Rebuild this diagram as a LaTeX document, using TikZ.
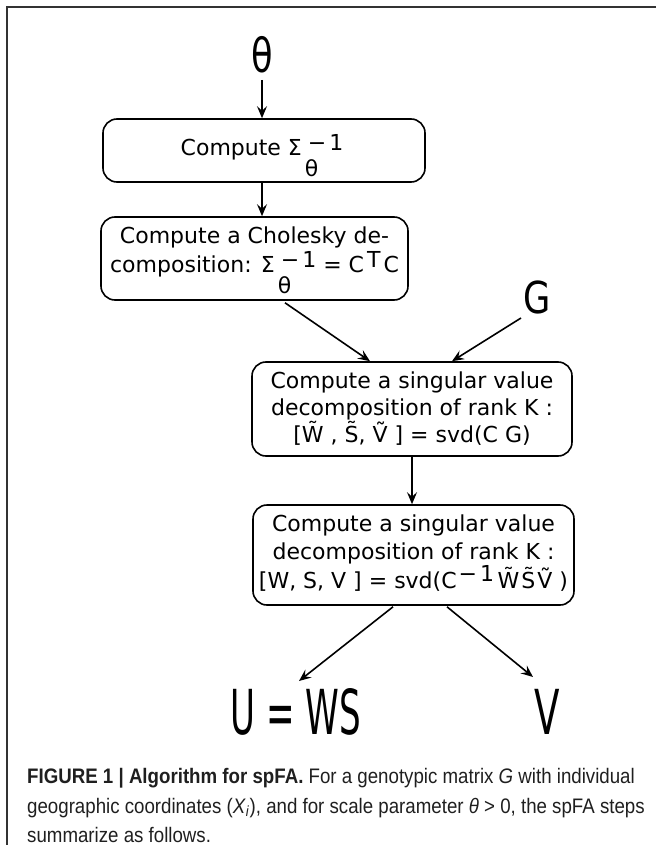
\documentclass[tikz,border=0pt]{standalone}
\usepackage{fontspec}
\usepackage{graphicx}
\setmainfont{DejaVu Sans}
\newfontfamily\capfont[FakeStretch=0.89]{Liberation Sans}
\usetikzlibrary{arrows.meta}
\newcommand\upr[2][5pt]{\raisebox{#1}{#2}}
\newcommand\SigInv{Σ\kern3pt\rlap{\raisebox{-21pt}{θ}}\kern3pt\raisebox{5pt}{−\kern3pt1}}
\begin{document}
\begin{tikzpicture}[x=1pt,y=-1pt,
  stepbox/.style={draw, line width=1.6pt, rounded corners=14pt, inner sep=0pt},
  boxtext/.style={anchor=base, inner sep=0pt, font=\fontsize{22}{28}\selectfont},
  arr/.style={line width=1.6pt, -{Stealth[length=12pt,width=10pt,inset=4.5pt]}},
  big/.style={inner sep=0pt},
  captext/.style={anchor=base west, inner sep=0pt, text=black!88, font=\capfont\fontsize{21}{30}\selectfont},
]
\useasboundingbox (0,0) rectangle (656,845);
\draw[line width=2pt, black!80] (656,7) -- (7,7) -- (7,845);

% big labels
\node[big, font=\fontsize{47}{47}\selectfont] (theta) at (262,55) {\scalebox{0.75}[1]{θ}};
\node[big, font=\fontsize{44}{44}\selectfont] (G) at (537,297) {\scalebox{0.8}[1]{G}};
\node[big, font=\fontsize{62}{62}\selectfont] (U) at (296,712) {\scalebox{0.55}[1]{U = WS}};
\node[big, font=\fontsize{62}{62}\selectfont] (V) at (547,712) {\scalebox{0.6}[1]{V}};

% boxes
\node[stepbox, minimum width=322pt, minimum height=63pt] (b1) at (264,150.5) {};
\node[stepbox, minimum width=307pt, minimum height=83pt] (b2) at (254.5,258.5) {};
\node[stepbox, minimum width=320pt, minimum height=94pt] (b3) at (412,409) {};
\node[stepbox, minimum width=321pt, minimum height=100pt] (b4) at (413.5,555) {};

% box texts
\node[boxtext] (b1l1) at (262,156) {Compute \SigInv};
\node[boxtext] (b2l1) at (254.5,243) {Compute a Cholesky de-};
\node[boxtext] (b2l2) at (254.5,272) {composition: \SigInv\ = C\kern3pt\upr{T}\kern3pt C};
\node[boxtext] (b3l1) at (412,388) {Compute a singular value};
\node[boxtext] (b3l2) at (412,415) {decomposition of rank K :};
\node[boxtext] (b3l3) at (412,442) {[\~{W} , \~{S}, \~{V} ] = svd(C G)};
\node[boxtext] (b4l1) at (413.5,531) {Compute a singular value};
\node[boxtext] (b4l2) at (413.5,559) {decomposition of rank K :};
\node[boxtext] (b4l3) at (413.5,588) {[W, S, V ] = svd(C\kern2pt\upr[7pt]{−\kern3pt1}\,\~{W}\kern2pt\~{S}\kern2pt\~{V} )};

% connector ends
\coordinate (t0) at (262,80);

% connectors
\draw[arr] (t0) -- (t0 |- b1.north);
\draw[arr] (t0 |- b1.south) -- (t0 |- b2.north);
\draw[arr] ([xshift=30.5pt,yshift=-2pt]b2.south) -- ([xshift=-42pt]b3.north);
\draw[arr] ([xshift=-16pt,yshift=-21pt]G.center) -- ([xshift=40pt]b3.north);
\draw[arr] (b3.south) -- (b3.south |- b4.north);
\draw[arr] ([xshift=-20.5pt,yshift=-1pt]b4.south) -- ([xshift=3pt,yshift=31pt]U.center);
\draw[arr] ([xshift=33.5pt,yshift=-1pt]b4.south) -- ([xshift=-14pt,yshift=35pt]V.center);

% caption
\node[captext] (c1) at (27,783) {\textbf{FIGURE 1 | Algorithm for spFA.} For a genotypic matrix \textit{G} with individual};
\node[captext] (c2) at (27,813) {geographic coordinates (\textit{X}\textsubscript{\textit{i}}), and for scale parameter \textit{θ} > 0, the spFA steps};
\node[captext] (c3) at (27,842) {summarize as follows.};
\end{tikzpicture}
\end{document}
